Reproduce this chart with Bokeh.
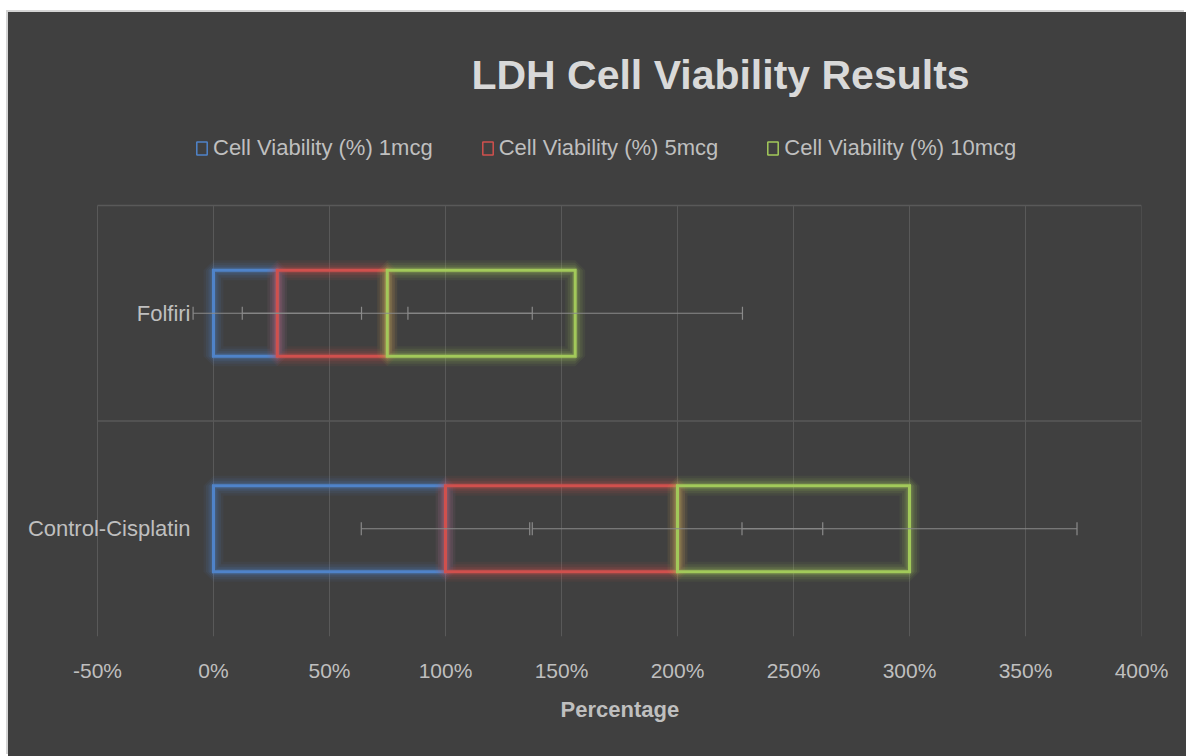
from bokeh.plotting import figure
from bokeh.models import (Range1d, FixedTicker, ColumnDataSource, Whisker, TeeHead,
                          Label, Legend, LegendItem, Spacer, Title)
from bokeh.layouts import column, row
from bokeh.core.properties import value
from bokeh.embed import file_html
from bokeh.resources import INLINE

# ---------------- data ----------------
categories = ["Control-Cisplatin", "Folfiri"]
series_names = ["Cell Viability (%) 1mcg", "Cell Viability (%) 5mcg", "Cell Viability (%) 10mcg"]
v_1mcg = [100.0, 27.5]
v_5mcg = [100.0, 47.4]
v_10mcg = [100.0, 81.0]
err_1mcg = [36.3, 36.3]
err_5mcg = [62.6, 62.5]
err_10mcg = [72.2, 72.1]
tick_values = [-50, 0, 50, 100, 150, 200, 250, 300, 350, 400]
tick_labels = ["-50%", "0%", "50%", "100%", "150%", "200%", "250%", "300%", "350%", "400%"]
title_text = "LDH Cell Viability Results"
x_title = "Percentage"

colors = ["#4f83c9", "#d0504d", "#a2c95a"]
BG = "#404040"
TXT = "#bfbfbf"
GRID = "#595959"
FONT = "Liberation Sans"

# category positions on the value-scale (band i spans i..i+1)
cat_y = [i + 0.5 for i in range(len(categories))]
n_cat = len(categories)

PX_PER_UNIT = 2.32          # horizontal pixels per percent
BAND_PX = 215.5             # vertical pixels per category band
FRAME_H = 624
x_lo = tick_values[0] - 89 / PX_PER_UNIT

p = figure(width=1178, height=744, x_range=Range1d(x_lo, tick_values[-1]),
           y_range=Range1d(0, FRAME_H / BAND_PX),
           output_backend="svg", toolbar_location=None, y_axis_location=None,
           title_location=None,
           min_border_left=0, min_border_right=45, min_border_top=0, min_border_bottom=120)
p.background_fill_color = BG
p.border_fill_color = BG
p.outline_line_color = None
p.xgrid.visible = False
p.ygrid.visible = False
p.styles = {"background-color": BG, "box-shadow": "-2px -2px 0 0 #d4d4d4"}

# grid lines limited to the plot area
p.segment(x0=tick_values, x1=tick_values, y0=[0] * len(tick_values),
          y1=[n_cat] * len(tick_values), line_color=GRID, line_width=1)
p.segment(x0=[tick_values[0]] * n_cat, x1=[tick_values[-1]] * n_cat,
          y0=[i + 1 for i in range(n_cat)], y1=[i + 1 for i in range(n_cat)],
          line_color=GRID, line_width=1.5)

# x axis
ax = p.xaxis[0]
ax.ticker = FixedTicker(ticks=tick_values)
ax.major_label_overrides = {v: l for v, l in zip(tick_values, tick_labels)}
ax.axis_line_color = None
ax.major_tick_line_color = None
ax.minor_tick_line_color = None
ax.major_tick_out = 0
ax.major_tick_in = 0
ax.major_label_text_color = TXT
ax.major_label_text_font = FONT
ax.major_label_text_font_size = "21px"
ax.major_label_standoff = 22

p.add_layout(Title(text=x_title, align="left", offset=552, standoff=20,
                   text_color=TXT, text_font=FONT, text_font_size="22px",
                   text_font_style="bold"), "below")

# stacked bars
series = [v_1mcg, v_5mcg, v_10mcg]
errors = [err_1mcg, err_5mcg, err_10mcg]
left = [0.0] * n_cat
legend_items = []
whisker_data = []
for name, vals, errs, col in zip(series_names, series, errors, colors):
    right = [l + v for l, v in zip(left, vals)]
    src = ColumnDataSource(dict(y=cat_y, left=left, right=right))
    for lw, a in [(20, 0.07), (15, 0.10), (10, 0.14), (6, 0.22)]:
        p.hbar(y="y", left="left", right="right", height=0.4, source=src,
               fill_alpha=0, line_color=col, line_alpha=a, line_width=lw)
    leg_r = p.hbar(y="y", left="left", right="right", height=0.4, source=src,
                   fill_alpha=0, line_color=col, line_width=1.5)
    p.hbar(y="y", left="left", right="right", height=0.4, source=src,
           fill_alpha=0, line_color=col, line_width=3, line_join="miter")
    legend_items.append(LegendItem(label=name, renderers=[leg_r]))
    whisker_data.append((right, errs))
    left = right

for ends, errs in whisker_data:
    wsrc = ColumnDataSource(dict(y=cat_y,
                                 lo=[e - d for e, d in zip(ends, errs)],
                                 hi=[e + d for e, d in zip(ends, errs)]))
    w = Whisker(base="y", lower="lo", upper="hi", dimension="width", source=wsrc,
                line_color="#8a8a8a", line_width=1.2, level="overlay",
                upper_head=TeeHead(size=13, line_color="#8a8a8a", line_width=1.2),
                lower_head=TeeHead(size=13, line_color="#8a8a8a", line_width=1.2))
    p.add_layout(w)

# category labels (vertical axis crosses at 0%)
p.text(x=[0] * n_cat, y=cat_y, text=categories, x_offset=-23,
       text_align="right", text_baseline="middle", text_color=TXT,
       text_font=value(FONT), text_font_size=value("22px"))

# legend
legend = Legend(items=legend_items, orientation="horizontal", location=(187, 475),
                glyph_width=13, glyph_height=16, label_standoff=5, spacing=48,
                padding=0, margin=0, border_line_color=None, background_fill_alpha=0,
                label_text_color=TXT, label_text_font=FONT, label_text_font_size="22px")
p.add_layout(legend, "center")

# chart title
p.add_layout(Label(x=x_lo + 712 / PX_PER_UNIT, y=(FRAME_H - 62) / BAND_PX, text=title_text,
                   text_align="center", text_baseline="middle",
                   text_font=FONT, text_font_size="41px",
                   text_font_style="bold", text_color="#d9d9d9"))

layout = row(Spacer(width=8, height=10), column(Spacer(width=1178, height=12), p))
open("out.html", "w").write(file_html(layout, INLINE))
